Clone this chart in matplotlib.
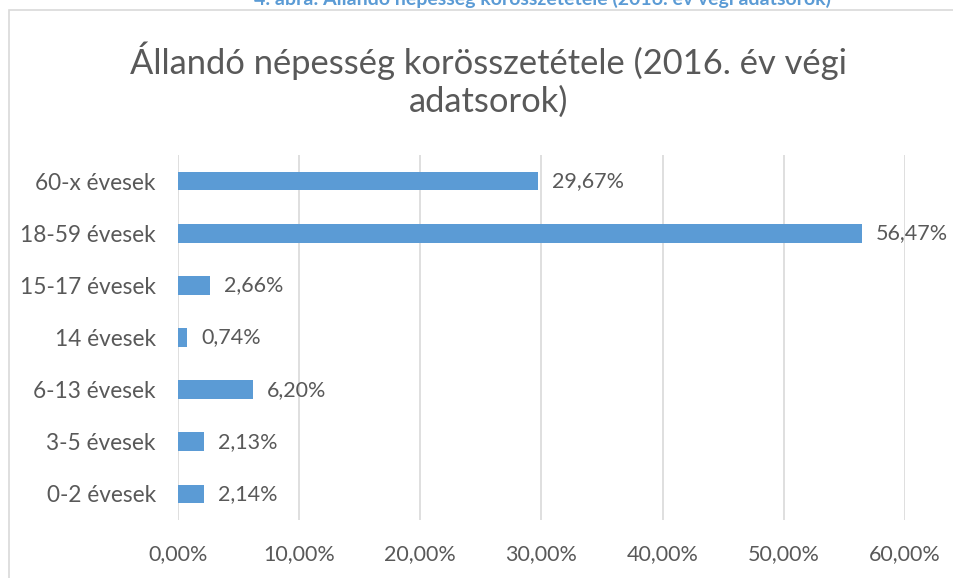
import matplotlib.pyplot as plt
from matplotlib.patches import Rectangle

plt.rcParams['font.family'] = ['Lato', 'DejaVu Sans']

# age groups, bottom to top
groups = ["0-2 évesek", "3-5 évesek", "6-13 évesek", "14 évesek",
          "15-17 évesek", "18-59 évesek", "60-x évesek"]
shares = [2.14, 2.13, 6.20, 0.74, 2.66, 56.47, 29.67]
x_ticks = [0, 10, 20, 30, 40, 50, 60]

grey = "#595959"
bar_color = "#5B9BD5"

fig = plt.figure(figsize=(9.54, 5.78), dpi=100)
W, H = 954, 578

# chart frame, runs off the right and bottom edges
fig.patches.append(Rectangle((9 / W, -0.1), 1.2, 1 - 10 / H + 0.1,
                             transform=fig.transFigure, fill=False,
                             edgecolor="#D9D9D9", linewidth=1.2))

# figure caption sitting above the frame, clipped at the top
fig.text(542 / W, 1 - 5 / H,
         "4. ábra: Állandó népesség korösszetétele (2016. év végi adatsorok)",
         color=bar_color, fontsize=14, fontweight="bold",
         ha="center", va="baseline")

fig.text(489 / W, 1 - 80 / H,
         "Állandó népesség korösszetétele (2016. év végi\nadatsorok)",
         color=grey, fontsize=24.8, ha="center", va="center", linespacing=1.2)

ax = fig.add_axes([178 / W, 1 - 520 / H, (905 - 178) / W, 365 / H])
ypos = range(len(groups))
ax.barh(ypos, shares, height=0.36, color=bar_color, zorder=3)

for y, v in zip(ypos, shares):
    ax.annotate(f"{v:.2f}%".replace(".", ","), (v, y), xytext=(14, 0),
                textcoords="offset pixels", va="center", ha="left",
                fontsize=15.5, color=grey, zorder=4)

ax.set_xlim(0, 60)
ax.set_ylim(-0.5, len(groups) - 0.5)
ax.set_xticks(x_ticks)
ax.set_xticklabels([f"{t:.2f}%".replace(".", ",") for t in x_ticks])
ax.set_yticks(list(ypos))
ax.set_yticklabels(groups)
ax.tick_params(axis="both", length=0, labelcolor=grey)
ax.tick_params(axis="x", pad=17, labelsize=15.5)
ax.tick_params(axis="y", pad=16, labelsize=16.3)
ax.grid(axis="x", color="#D9D9D9", linewidth=1.2, zorder=0)
for s in ax.spines.values():
    s.set_visible(False)

fig.savefig("out.png", dpi=100)
